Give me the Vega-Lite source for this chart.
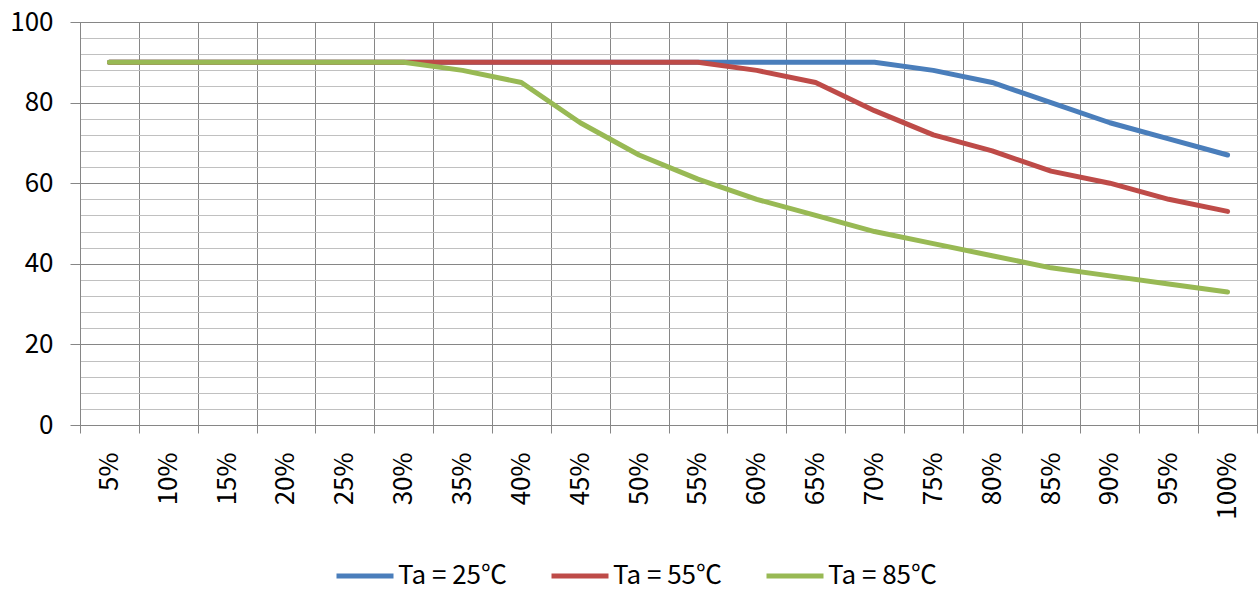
{
  "$schema": "https://vega.github.io/schema/vega-lite/v6.json",
  "width": 1177,
  "height": 403,
  "autosize": {"type": "none"},
  "padding": {"left": 80, "top": 22, "right": 1, "bottom": 165},
  "background": "white",
  "config": {
    "font": "Noto Sans CJK KR",
    "view": {"stroke": "#868686", "strokeWidth": 1},
    "axis": {"labelFont": "Noto Sans CJK KR", "labelColor": "#000000"}
  },
  "data": {
    "values": [
      {"x": "5%", "s": "Ta = 25℃", "v": 90}, {"x": "10%", "s": "Ta = 25℃", "v": 90}, {"x": "15%", "s": "Ta = 25℃", "v": 90}, {"x": "20%", "s": "Ta = 25℃", "v": 90},
      {"x": "25%", "s": "Ta = 25℃", "v": 90}, {"x": "30%", "s": "Ta = 25℃", "v": 90}, {"x": "35%", "s": "Ta = 25℃", "v": 90}, {"x": "40%", "s": "Ta = 25℃", "v": 90},
      {"x": "45%", "s": "Ta = 25℃", "v": 90}, {"x": "50%", "s": "Ta = 25℃", "v": 90}, {"x": "55%", "s": "Ta = 25℃", "v": 90}, {"x": "60%", "s": "Ta = 25℃", "v": 90},
      {"x": "65%", "s": "Ta = 25℃", "v": 90}, {"x": "70%", "s": "Ta = 25℃", "v": 90}, {"x": "75%", "s": "Ta = 25℃", "v": 88}, {"x": "80%", "s": "Ta = 25℃", "v": 85},
      {"x": "85%", "s": "Ta = 25℃", "v": 80}, {"x": "90%", "s": "Ta = 25℃", "v": 75}, {"x": "95%", "s": "Ta = 25℃", "v": 71}, {"x": "100%", "s": "Ta = 25℃", "v": 67},
      {"x": "5%", "s": "Ta = 55℃", "v": 90}, {"x": "10%", "s": "Ta = 55℃", "v": 90}, {"x": "15%", "s": "Ta = 55℃", "v": 90}, {"x": "20%", "s": "Ta = 55℃", "v": 90},
      {"x": "25%", "s": "Ta = 55℃", "v": 90}, {"x": "30%", "s": "Ta = 55℃", "v": 90}, {"x": "35%", "s": "Ta = 55℃", "v": 90}, {"x": "40%", "s": "Ta = 55℃", "v": 90},
      {"x": "45%", "s": "Ta = 55℃", "v": 90}, {"x": "50%", "s": "Ta = 55℃", "v": 90}, {"x": "55%", "s": "Ta = 55℃", "v": 90}, {"x": "60%", "s": "Ta = 55℃", "v": 88},
      {"x": "65%", "s": "Ta = 55℃", "v": 85}, {"x": "70%", "s": "Ta = 55℃", "v": 78}, {"x": "75%", "s": "Ta = 55℃", "v": 72}, {"x": "80%", "s": "Ta = 55℃", "v": 68},
      {"x": "85%", "s": "Ta = 55℃", "v": 63}, {"x": "90%", "s": "Ta = 55℃", "v": 60}, {"x": "95%", "s": "Ta = 55℃", "v": 56}, {"x": "100%", "s": "Ta = 55℃", "v": 53},
      {"x": "5%", "s": "Ta = 85℃", "v": 90}, {"x": "10%", "s": "Ta = 85℃", "v": 90}, {"x": "15%", "s": "Ta = 85℃", "v": 90}, {"x": "20%", "s": "Ta = 85℃", "v": 90},
      {"x": "25%", "s": "Ta = 85℃", "v": 90}, {"x": "30%", "s": "Ta = 85℃", "v": 90}, {"x": "35%", "s": "Ta = 85℃", "v": 88}, {"x": "40%", "s": "Ta = 85℃", "v": 85},
      {"x": "45%", "s": "Ta = 85℃", "v": 75}, {"x": "50%", "s": "Ta = 85℃", "v": 67}, {"x": "55%", "s": "Ta = 85℃", "v": 61}, {"x": "60%", "s": "Ta = 85℃", "v": 56},
      {"x": "65%", "s": "Ta = 85℃", "v": 52}, {"x": "70%", "s": "Ta = 85℃", "v": 48}, {"x": "75%", "s": "Ta = 85℃", "v": 45}, {"x": "80%", "s": "Ta = 85℃", "v": 42},
      {"x": "85%", "s": "Ta = 85℃", "v": 39}, {"x": "90%", "s": "Ta = 85℃", "v": 37}, {"x": "95%", "s": "Ta = 85℃", "v": 35}, {"x": "100%", "s": "Ta = 85℃", "v": 33}
    ]
  },
  "layer": [
    {
      "mark": {"type": "line", "opacity": 0},
      "encoding": {
        "x": {"field": "x", "type": "ordinal", "bandPosition": 0.5, "sort": ["5%","10%","15%","20%","25%","30%","35%","40%","45%","50%","55%","60%","65%","70%","75%","80%","85%","90%","95%","100%"], "scale": {"type": "band", "paddingInner": 0, "paddingOuter": 0},
          "axis": {"title": null, "tickBand": "extent", "grid": true, "gridColor": "#868686", "gridWidth": 1, "domainColor": "#868686", "tickColor": "#868686", "tickSize": 8, "labelAngle": 270, "labelFontSize": 26, "labelPadding": 19, "labelAlign": "right", "labelBaseline": "middle"}},
        "y": {"field": "v", "type": "quantitative", "scale": {"domain": [0, 100], "nice": false},
          "axis": {"values": [4,8,12,16,24,28,32,36,44,48,52,56,64,68,72,76,84,88,92,96], "grid": true, "gridColor": "#c0c0c0", "gridWidth": 1, "labels": false, "ticks": false, "domain": false, "title": null, "orient": "left"}},
        "detail": {"field": "s"}
      }
    },
    {
      "mark": {"type": "line", "strokeWidth": 5, "strokeCap": "round", "strokeJoin": "round"},
      "encoding": {
        "x": {"field": "x", "type": "ordinal", "bandPosition": 0.5, "sort": ["5%","10%","15%","20%","25%","30%","35%","40%","45%","50%","55%","60%","65%","70%","75%","80%","85%","90%","95%","100%"], "scale": {"type": "band", "paddingInner": 0, "paddingOuter": 0},
          "axis": {"title": null, "tickBand": "extent", "grid": true, "gridColor": "#868686", "gridWidth": 1, "domainColor": "#868686", "tickColor": "#868686", "tickSize": 8, "labelAngle": 270, "labelFontSize": 26, "labelPadding": 19, "labelAlign": "right", "labelBaseline": "middle"}},
        "y": {"field": "v", "type": "quantitative", "scale": {"domain": [0, 100], "nice": false},
          "axis": {"values": [0,20,40,60,80,100], "grid": true, "gridColor": "#868686", "gridWidth": 1, "domainColor": "#868686", "tickColor": "#868686", "tickSize": 10, "labelFontSize": 26, "labelPadding": 17, "title": null, "orient": "left"}},
        "color": {"field": "s", "type": "nominal", "scale": {"domain": ["Ta = 25℃", "Ta = 55℃", "Ta = 85℃"], "range": ["#4A7EBB", "#BE4B48", "#98B954"]},
          "legend": {"title": null, "orient": "none", "legendX": 254, "legendY": 523, "direction": "horizontal", "symbolType": "stroke", "symbolSize": 3249, "symbolStrokeWidth": 5, "labelFontSize": 26, "labelOffset": 2, "labelLimit": 0, "columnPadding": 33, "labelColor": "#000000"}}
      }
    }
  ],
  "resolve": {"axis": {"y": "independent"}}
}
